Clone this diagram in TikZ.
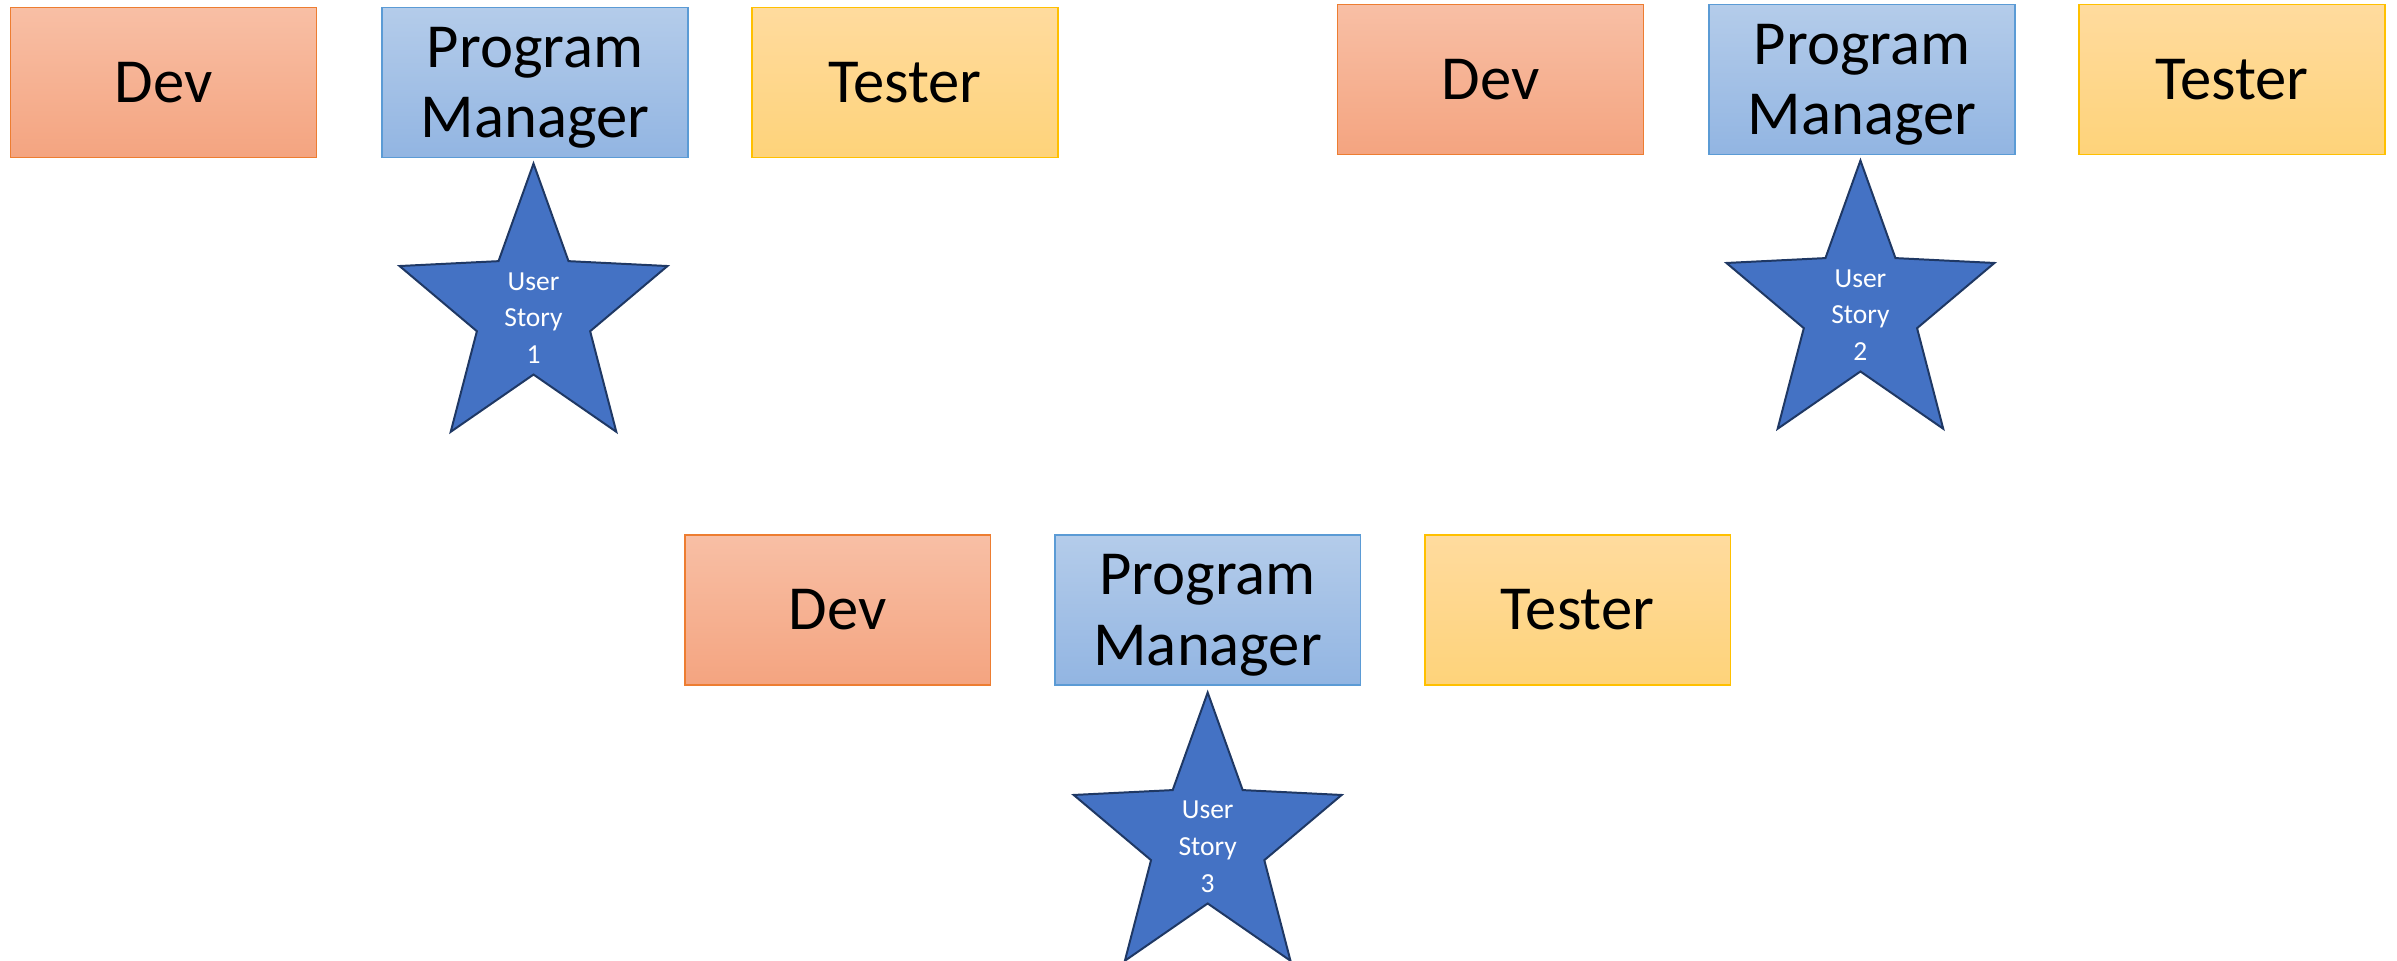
\documentclass[tikz,border=0pt]{standalone}
\usepackage{fontspec}
\setmainfont{Carlito}
\definecolor{devtop}{HTML}{F8BFA5}
\definecolor{devbot}{HTML}{F4A480}
\definecolor{devline}{HTML}{ED7D31}
\definecolor{pmtop}{HTML}{B4CCEA}
\definecolor{pmbot}{HTML}{92B5E2}
\definecolor{pmline}{HTML}{5B9BD5}
\definecolor{testtop}{HTML}{FFDB9E}
\definecolor{testbot}{HTML}{FED37A}
\definecolor{testline}{HTML}{FFC000}
\definecolor{starfill}{HTML}{4472C4}
\definecolor{starline}{HTML}{1F3864}
\newcommand\storystar[4]{%
  \begin{scope}[shift={(#2,#3)}]
    \draw[starshape,xscale=0.95] (270:97) -- (306:41) -- (342:97) -- (18:41) -- (54:97) -- (90:41) -- (126:97) -- (162:41) -- (198:97) -- (234:41) -- cycle;
  \end{scope}
  \node[startext] (#1) at (#2,#3+4) {User\\Story\\#4};
}
\begin{document}
\begin{tikzpicture}[x=1pt,y=-1pt,
  box/.style={minimum width=200pt, minimum height=98pt, inner sep=0pt, line width=1pt,
    font=\fontsize{41}{46}\selectfont, align=center, text=black},
  devbox/.style={box, draw=devline, top color=devtop, bottom color=devbot},
  pmbox/.style={box, draw=pmline, top color=pmtop, bottom color=pmbot, text depth=0pt},
  testbox/.style={box, draw=testline, top color=testtop, bottom color=testbot},
  startext/.style={text=white, font=\fontsize{18}{24}\selectfont, align=center, inner sep=0pt},
  starshape/.style={fill=starfill, draw=starline, line width=1.3pt, line join=miter}
]
\useasboundingbox (0,0) rectangle (1568,628);
% group 1
\node[devbox] (dev1) at (107,54) {Dev};
\node[pmbox] (pm1) at (350,54) {Program\\Manager};
\node[testbox] (test1) at (592,54) {Tester};
\storystar{us1}{349}{204}{1}
% group 2
\node[devbox] (dev2) at (975,52) {Dev};
\node[pmbox] (pm2) at (1218,52) {Program\\Manager};
\node[testbox] (test2) at (1460,52) {Tester};
\storystar{us2}{1217}{202}{2}
% group 3
\node[devbox] (dev3) at (548,399) {Dev};
\node[pmbox] (pm3) at (790,399) {Program\\Manager};
\node[testbox] (test3) at (1032,399) {Tester};
\storystar{us3}{790}{550}{3}
\end{tikzpicture}
\end{document}
